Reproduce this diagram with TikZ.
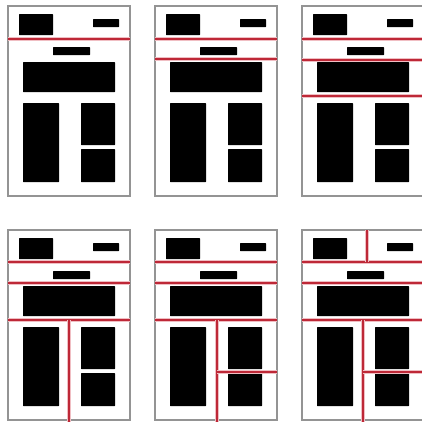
\documentclass[tikz,border=0pt]{standalone}
\begin{document}
\begin{tikzpicture}[x=1pt,y=-1pt,
  frame/.style={draw=black!42,line width=1.1pt},
  blk/.style={fill=black,rounded corners=0.5pt},
  sepglow/.style={draw={rgb,255:red,240;green,190;blue,195},line width=3.6pt,line cap=butt},
  sepline/.style={draw={rgb,255:red,190;green,40;blue,55},line width=1.5pt},
  page/.pic={
    \draw[frame] (8,6) rectangle (130,196);
    \fill[blk] (19,14) rectangle (53,35);
    \fill[blk] (93,19) rectangle (119,27);
    \fill[blk] (53,47) rectangle (90,55);
    \fill[blk] (23,62) rectangle (115,92);
    \fill[blk] (23,103) rectangle (59,182);
    \fill[blk] (81,103) rectangle (115,145);
    \fill[blk] (81,149) rectangle (115,182);
  }]
\useasboundingbox (0,0) rectangle (422,424);
\fill[white] (0,0) rectangle (422,424);
% top row
\pic at (0,0) {page};
\pic at (147,0) {page};
\pic at (294,0) {page};
% bottom row
\pic at (0,224) {page};
\pic at (147,224) {page};
\pic at (294,224) {page};
% separators, panel 1
\begin{scope}
  \draw[sepglow] (8,39) -- (130,39);
  \draw[sepline] (8,39) -- (130,39);
\end{scope}
% panel 2
\begin{scope}[shift={(147,0)}]
  \foreach \y in {39,59}{
    \draw[sepglow] (8,\y) -- (130,\y);
    \draw[sepline] (8,\y) -- (130,\y);}
\end{scope}
% panel 3
\begin{scope}[shift={(294,0)}]
  \foreach \y in {39,60,96}{
    \draw[sepglow] (8,\y) -- (130,\y);
    \draw[sepline] (8,\y) -- (130,\y);}
\end{scope}
% panel 4
\begin{scope}[shift={(0,224)}]
  \foreach \y in {38,59,96}{
    \draw[sepglow] (8,\y) -- (130,\y);
    \draw[sepline] (8,\y) -- (130,\y);}
  \draw[sepglow] (69,96) -- (69,198);
  \draw[sepline] (69,96) -- (69,198);
\end{scope}
% panel 5
\begin{scope}[shift={(147,224)}]
  \foreach \y in {38,59,96}{
    \draw[sepglow] (8,\y) -- (130,\y);
    \draw[sepline] (8,\y) -- (130,\y);}
  \draw[sepglow] (70,96) -- (70,198);
  \draw[sepline] (70,96) -- (70,198);
  \draw[sepglow] (70,148) -- (130,148);
  \draw[sepline] (70,148) -- (130,148);
\end{scope}
% panel 6
\begin{scope}[shift={(294,224)}]
  \foreach \y in {38,59,96}{
    \draw[sepglow] (8,\y) -- (130,\y);
    \draw[sepline] (8,\y) -- (130,\y);}
  \draw[sepglow] (73,6) -- (73,38);
  \draw[sepline] (73,6) -- (73,38);
  \draw[sepglow] (69,96) -- (69,198);
  \draw[sepline] (69,96) -- (69,198);
  \draw[sepglow] (69,148) -- (130,148);
  \draw[sepline] (69,148) -- (130,148);
\end{scope}
\end{tikzpicture}
\end{document}
